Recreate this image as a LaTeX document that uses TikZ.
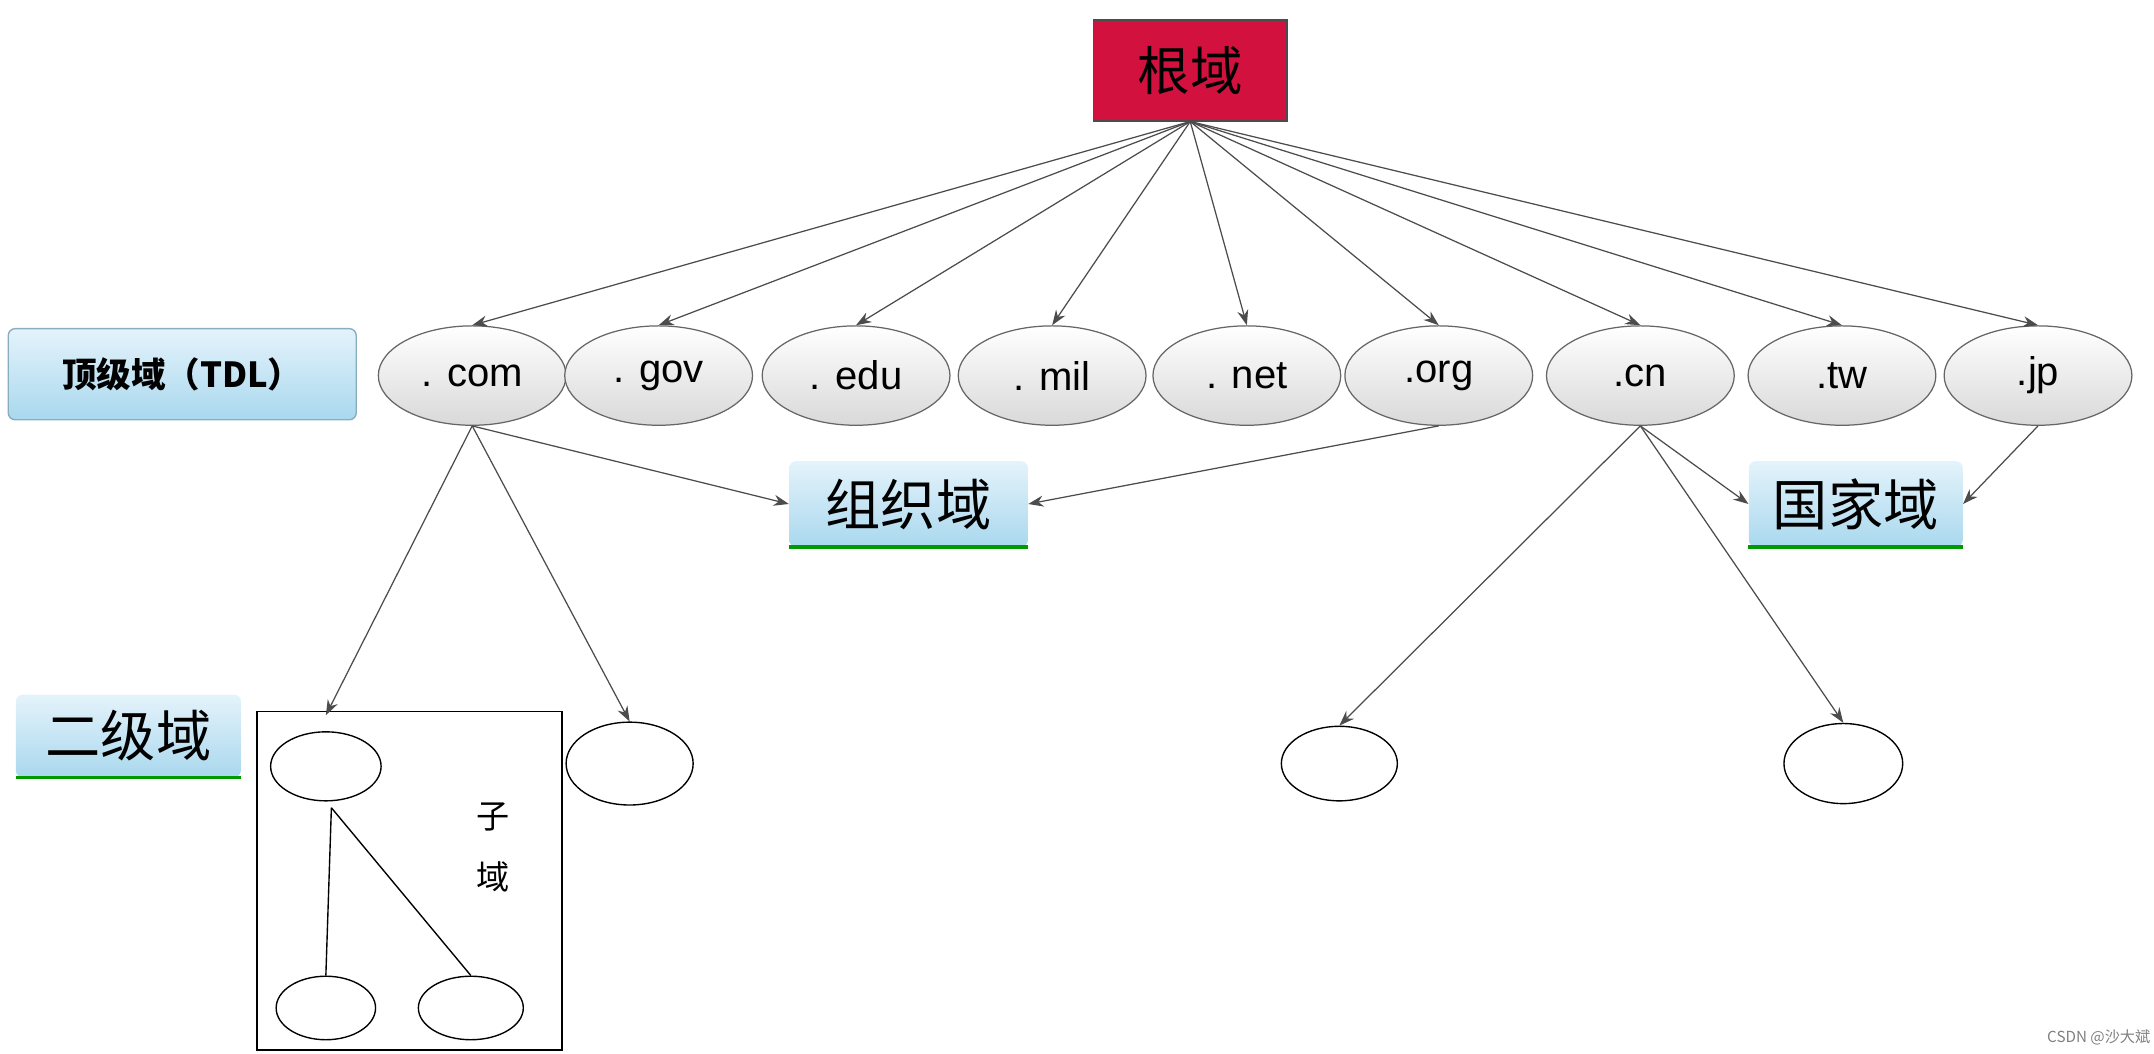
\documentclass[tikz,border=0pt]{standalone}
\usepackage{fontspec}
\setmainfont{Liberation Sans}
\newfontfamily\cjk{Noto Sans CJK SC}
\usetikzlibrary{arrows.meta,shadings,shapes.geometric}
\definecolor{rootred}{HTML}{D2113F}
\definecolor{lb1}{HTML}{E4F3FB}
\definecolor{lb2}{HTML}{A9D8EE}
\tikzset{
 x=1pt,y=-1pt,
 arr/.style={draw=black!70,line width=0.9pt,-{Stealth[length=11pt,width=8pt]}},
 tld/.style={ellipse,draw=black!60,line width=0.9pt,top color=white,bottom color=black!15,minimum width=136pt,minimum height=72pt,inner sep=0pt,font=\fontsize{29}{29}\selectfont},
 lbl/.style={rounded corners=5pt,top color=lb1,bottom color=lb2,draw=none,inner sep=0pt},
 sm/.style={ellipse,draw,line width=1pt,inner sep=0pt},
 uline/.style={green!60!black,line width=2.5pt},
}
\begin{document}
\begin{tikzpicture}
\useasboundingbox (0,0) rectangle (1560,763);
\node[draw=black!70,line width=1pt,fill=rootred,minimum width=140pt,minimum height=73pt,inner sep=0pt,font=\cjk\fontsize{38}{38}\selectfont] (root) at (862,51) {根域};
\node[lbl,draw=lb2!80!black,line width=1pt,minimum width=252pt,minimum height=66pt,font=\cjk\bfseries\fontsize{25}{25}\selectfont] (tdl) at (132,271) {顶级域（TDL）};
\foreach \n/\x/\t in {com/342/. com,gov/477/. gov,edu/620/. edu,mil/762/. mil,net/903/. net,org/1042/.org,cn/1188/.cn,tw/1334/.tw,jp/1476/.jp}{
 \node[tld] (\n) at (\x,272) {\t};
 \draw[arr] (root.south) -- (\n.north);
}
\node[lbl,minimum width=173pt,minimum height=62pt,font=\cjk\fontsize{40}{40}\selectfont] (org2) at (658,365) {组织域};
\draw[uline] (org2.south west) -- (org2.south east);
\node[lbl,minimum width=155pt,minimum height=62pt,font=\cjk\fontsize{40}{40}\selectfont] (cty) at (1344,365) {国家域};
\draw[uline] (cty.south west) -- (cty.south east);
\node[lbl,minimum width=163pt,minimum height=60pt,font=\cjk\fontsize{40}{40}\selectfont] (sld) at (93,533) {二级域};
\draw[uline] (sld.south west) -- (sld.south east);
\draw[arr] (com.south) -- (org2.west);
\draw[arr] (org.south) -- (org2.east);
\draw[arr] (cn.south) -- (cty.west);
\draw[arr] (jp.south) -- (cty.east);
\node[draw,line width=1pt,minimum width=221pt,minimum height=245pt,inner sep=0pt] (box) at (296.5,638) {};
\node[sm,minimum width=80pt,minimum height=50pt] (s1) at (236,555) {};
\node[sm,minimum width=92pt,minimum height=60pt] (s2) at (456,553) {};
\node[sm,minimum width=84pt,minimum height=54pt] (s3) at (970,553) {};
\node[sm,minimum width=86pt,minimum height=58pt] (s4) at (1335,553) {};
\node[sm,minimum width=72pt,minimum height=46pt] (s5) at (236,730) {};
\node[sm,minimum width=76pt,minimum height=46pt] (s6) at (341,730) {};
\coordinate (c1) at (236,518);
\draw[arr] (com.south) -- (c1);
\draw[arr] (com.south) -- (s2.north);
\draw[arr] (cn.south) -- (s3.north);
\draw[arr] (cn.south) -- (s4.north);
\coordinate (fork) at (240,585);
\draw[line width=1pt] (fork) -- (s5.north);
\draw[line width=1pt] (fork) -- (s6.north);
\node[font=\cjk\fontsize{24}{24}\selectfont] (zi) at (357,592) {子};
\node[font=\cjk\fontsize{24}{24}\selectfont] (yu) at (357,635) {域};
\node[font=\cjk\fontsize{11}{11}\selectfont,text=black!50] (csdn) at (1520,751) {CSDN @沙大斌};
\end{tikzpicture}
\end{document}
